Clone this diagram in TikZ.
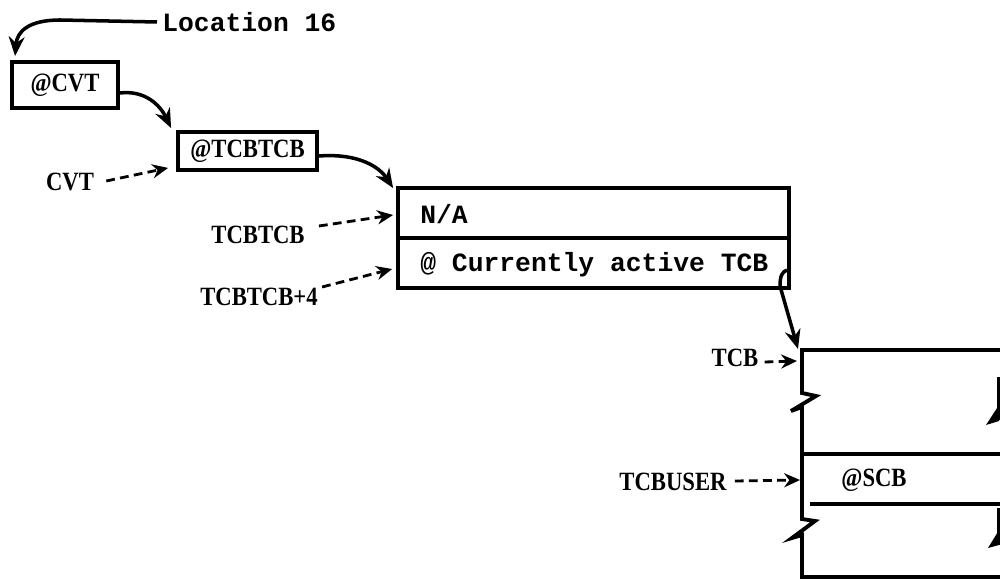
\documentclass[tikz,border=0pt]{standalone}
\usepackage{fontspec}
\setmainfont{Liberation Serif}
\newfontfamily\tw{Liberation Mono}
\newfontfamily\labfont[FakeStretch=0.86]{Liberation Serif}
\DeclareRobustCommand\mymono{\fontsize{15}{15}\selectfont\tw\bfseries}
\usetikzlibrary{arrows.meta,calc}
\begin{document}
\begin{tikzpicture}[x=0.02cm,y=-0.02cm,
 box/.style={draw,line width=2.2pt,inner sep=0pt},
 lab/.style={font=\fontsize{15}{15}\selectfont\labfont\bfseries,inner sep=0pt},
 mono/.style={font=\mymono,inner sep=0pt},
 ptr/.style={line width=2pt,-{Stealth[length=11pt,width=9pt]}},
 dptr/.style={line width=1.6pt,dash pattern=on 5pt off 3pt,-{Stealth[length=9pt,width=8pt]}},
 edge/.style={line width=2.2pt,line join=miter}]
\useasboundingbox (0,0) rectangle (1000,580);

% boxes
\node[box,lab,minimum width=2.12cm,minimum height=0.92cm] (cvt) at (65,85) {@CVT};
\node[box,lab,minimum width=2.78cm,minimum height=0.76cm] (tcbb) at (247.5,151) {@TCBTCB};
\node[box,minimum width=7.82cm,minimum height=1.0cm] (na) at (593.5,213) {};
\node[box,minimum width=7.82cm,minimum height=1.0cm] (cur) at (593.5,263) {};
\node[mono,anchor=west] (natext) at (420,214) {N/A};
\node[mono,anchor=west] (curtext) at (420,265) {@~Currently~active~TCB};

% TCB block (broken edges)
\draw[edge] (1002,350) -- (802,350) -- (802,393) -- (816,396) -- (791,411) -- (802,407) -- (802,519) -- (815,521) -- (792,538) -- (802,535) -- (802,577) -- (1002,577);
\draw[edge] (802,454) -- (1002,454);
\draw[edge] (810,504) -- (1002,504);
\draw[edge] (999,377) -- (999,420);
\fill (999,405) -- (986,425) -- (999,421) -- cycle;
\draw[edge] (999,508) -- (999,545);
\fill (999,530) -- (988,548) -- (999,545) -- cycle;
\coordinate (tcb) at (802,352);
\coordinate (tcbuser) at (802,480);
\node[lab] (scb) at (874,480) {@SCB};

% labels
\node[mono,anchor=west] (loc) at (162,22) {Location 16};
\node[lab] (cvtl) at (70,182) {CVT};
\node[lab] (tcbtcbl) at (258,235) {TCBTCB};
\node[lab] (tcbtcb4) at (259,297) {TCBTCB+4};
\node[lab] (tcbl) at (735,358) {TCB};
\node[lab] (tcbuserl) at (673,482) {TCBUSER};

% solid pointers
\draw[ptr] ([xshift=-0.1cm]loc.west) -- (60,20) .. controls (28,20) and (17,32) .. ($(cvt.north west)+(5,-4)$);
\draw[ptr] ($(cvt.east)+(0,8)$) .. controls (145,90) and (160,105) .. ($(tcbb.north west)+(-5,-2)$);
\draw[ptr] ($(tcbb.east)+(0,5)$) .. controls (360,153) and (380,168) .. ($(na.north west)+(-3,2)$);
\draw[ptr] (787,270) .. controls (782,272) and (780,276) .. (780,286) -- ($(tcb)+(-4,-3)$);

% dashed pointers
\draw[dptr] ($(cvtl.east)+(12,-1)$) -- ($(tcbb.south west)+(-8,-4)$);
\draw[dptr] ($(tcbtcbl.east)+(14,-9)$) -- ($(na.west)+(-3,2)$);
\draw[dptr] ($(tcbtcb4.east)+(4,-10)$) -- ($(cur.west)+(-4,6)$);
\draw[dptr] ($(tcbl.east)+(6,4)$) -- ($(tcb)+(-5,9)$);
\draw[dptr] ($(tcbuserl.east)+(8,-1)$) -- ($(tcbuser)+(-2,0)$);
\end{tikzpicture}
\end{document}
